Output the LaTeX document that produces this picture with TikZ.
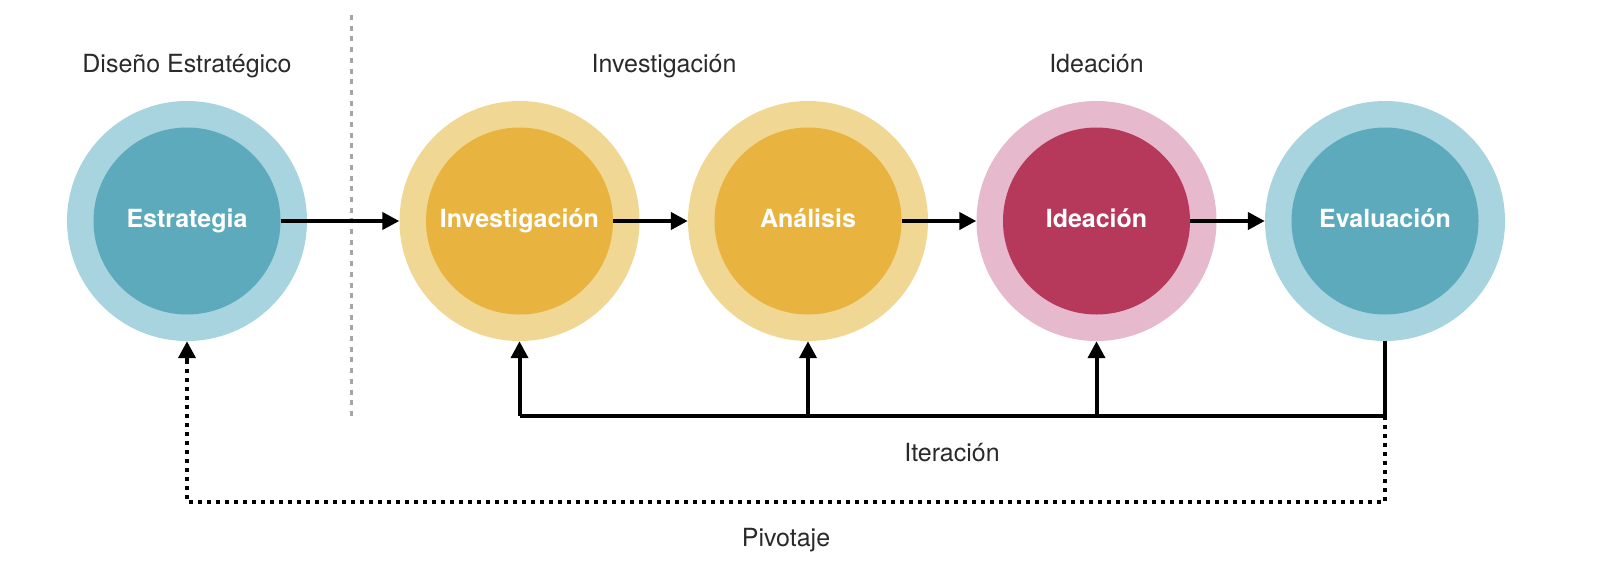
\documentclass[tikz,border=0pt]{standalone}
\usepackage{fontspec}
\setmainfont{TeX Gyre Heros}
\usetikzlibrary{arrows.meta}
\definecolor{tealO}{HTML}{A7D4DE}
\definecolor{tealI}{HTML}{5DAABC}
\definecolor{yelO}{HTML}{F0D794}
\definecolor{yelI}{HTML}{E9B340}
\definecolor{pinkO}{HTML}{E6B9CD}
\definecolor{pinkI}{HTML}{B6395C}
\definecolor{txt}{HTML}{2A2A2A}
\definecolor{sepgray}{HTML}{A5A5A5}
\tikzset{
  outerc/.style={circle, minimum size=240pt, inner sep=0pt, fill=#1},
  innerc/.style={circle, minimum size=187pt, inner sep=0pt, fill=#1},
  ctext/.style={text=white, font=\bfseries\fontsize{25}{30}\selectfont, anchor=base, inner sep=0pt},
  lbl/.style={text=txt, font=\fontsize{25}{30}\selectfont, anchor=base, inner sep=0pt},
  flow/.style={line width=4pt, -{Triangle[length=17pt,width=17pt]}},
  iter/.style={line width=4pt},
  pivot/.style={line width=4pt, dash pattern=on 4pt off 5pt},
  sepline/.style={draw=sepgray, line width=3pt, dash pattern=on 5pt off 5.7pt}
}
\begin{document}
\begin{tikzpicture}[x=1pt, y=-1pt]
\useasboundingbox (0,0) rectangle (1600,582);
% separator
\coordinate (sepT) at (351,15);
\coordinate (sepB) at (351,417);
\draw[sepline] (sepT) -- (sepB);
% circles
\node[outerc=tealO] (est) at (187,221) {};
\node[innerc=tealI] (esti) at (187,221) {};
\node[outerc=yelO] (inv) at (519.5,221) {};
\node[innerc=yelI] (invi) at (519.5,221) {};
\node[outerc=yelO] (ana) at (808,221) {};
\node[innerc=yelI] (anai) at (808,221) {};
\node[outerc=pinkO] (ide) at (1096.5,221) {};
\node[innerc=pinkI] (idei) at (1096.5,221) {};
\node[outerc=tealO] (eva) at (1385,221) {};
\node[innerc=tealI] (evai) at (1385,221) {};
% circle texts
\node[ctext] (estT) at (187,227) {Estrategia};
\node[ctext] (invT) at (519.5,227) {Investigación};
\node[ctext] (anaT) at (808,227) {Análisis};
\node[ctext] (ideT) at (1096.5,227) {Ideación};
\node[ctext] (evaT) at (1385,227) {Evaluación};
% top labels
\node[lbl] (l1) at (187,72) {Diseño Estratégico};
\node[lbl] (l2) at (664,72) {Investigación};
\node[lbl] (l3) at (1096.5,72) {Ideación};
% flow arrows
\draw[flow] (esti.east) -- (inv.west);
\draw[flow] (invi.east) -- (ana.west);
\draw[flow] (anai.east) -- (ide.west);
\draw[flow] (idei.east) -- (eva.west);
% iteration
\coordinate (itR) at (1385,416);
\coordinate (itL) at (519.5,416);
\coordinate (itA) at (808,416);
\coordinate (itI) at (1096.5,416);
\coordinate (pvR) at (1385,502);
\draw[pivot] (itR) -- (pvR) -| ([yshift=-20pt]est.south);
\draw[flow] ([yshift=-20pt]est.south) -- (est.south);
\draw[iter] (eva.south) -- (itR) -- (itL);
\draw[flow] (itL) -- (inv.south);
\draw[flow] (itA) -- (ana.south);
\draw[flow] (itI) -- (ide.south);
% bottom labels
\node[lbl] (it) at (952,461) {Iteración};
\node[lbl] (pv) at (786,546) {Pivotaje};
\end{tikzpicture}
\end{document}
